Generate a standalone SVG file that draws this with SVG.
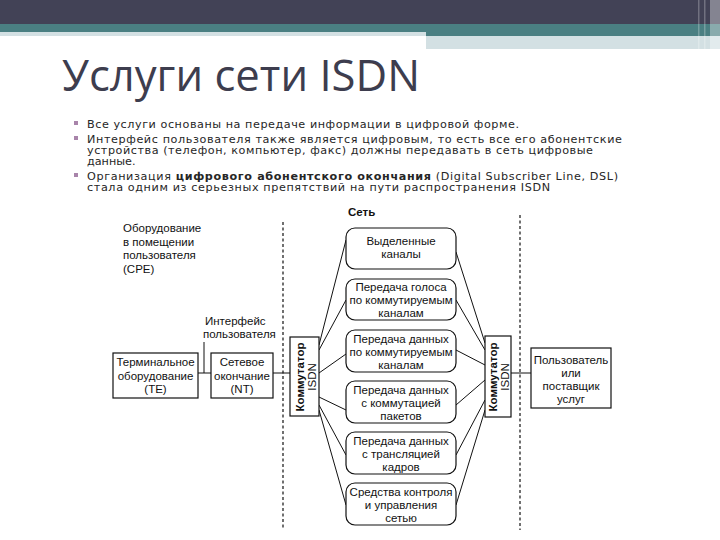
<svg xmlns="http://www.w3.org/2000/svg" width="720" height="540" viewBox="0 0 720 540">
<style>
.body{font-family:"DejaVu Sans","Liberation Sans",sans-serif;font-size:11.2px;fill:#262626}
.dg{font-family:"Liberation Sans",Arial,sans-serif;font-size:11.5px;fill:#111}
.c{text-anchor:middle}
.box{fill:#fff;stroke:#111;stroke-width:1.2}
.rb{fill:#fff;stroke:#111;stroke-width:1.2}
.ln{stroke:#111;stroke-width:1;fill:none}
.dash{stroke:#111;stroke-width:1.2;stroke-dasharray:3 2.5;fill:none}
.bul{fill:#a884aa}
</style>
<rect x="0" y="0" width="720" height="540" fill="#fff"/>
<g id="header">
<rect x="0" y="0" width="720" height="24" fill="#424256"/>
<rect x="0" y="24" width="720" height="8" fill="#4a7f82"/>
<rect x="426" y="32" width="294" height="4" fill="#4a7f82"/>
<rect x="0" y="32" width="426" height="4" fill="#d3e0e3"/>
<rect x="426" y="36" width="294" height="13" fill="#d3e0e3"/>
<rect x="698" y="0" width="1.5" height="49" fill="#fff" opacity="0.25"/>
<rect x="704" y="0" width="1.5" height="49" fill="#fff" opacity="0.25"/>
<rect x="710" y="0" width="10" height="49" fill="#fff" opacity="0.35"/>
</g>
<text x="62" y="91" font-family="'Open Sans','DejaVu Sans',sans-serif" font-size="43" fill="#3d3d4e" textLength="358" lengthAdjust="spacingAndGlyphs">Услуги сети ISDN</text>
<g id="bullets">
<rect class="bul" x="74" y="121" width="4" height="4"/>
<rect class="bul" x="74" y="136" width="4" height="4"/>
<rect class="bul" x="74" y="173" width="4" height="4"/>
<text class="body" x="87" y="128" textLength="432" lengthAdjust="spacing">Все услуги основаны на передаче информации в цифровой форме.</text>
<text class="body" x="87" y="143" textLength="535" lengthAdjust="spacing">Интерфейс пользователя также является цифровым, то есть все его абонентские</text>
<text class="body" x="87" y="154" textLength="506" lengthAdjust="spacing">устройства (телефон, компьютер, факс) должны передавать в сеть цифровые</text>
<text class="body" x="87" y="165">данные.</text>
<text class="body" x="87" y="180" textLength="531" lengthAdjust="spacing">Организация <tspan font-weight="bold">цифрового абонентского окончания</tspan> (Digital Subscriber Line, DSL)</text>
<text class="body" x="87" y="191" textLength="463" lengthAdjust="spacing">стала одним из серьезных препятствий на пути распространения ISDN</text>
</g>
<g id="cpe-label">
<text class="dg" x="123" y="232">Оборудование</text>
<text class="dg" x="123" y="246">в помещении</text>
<text class="dg" x="123" y="259">пользователя</text>
<text class="dg" x="123" y="273">(CPE)</text>
</g>
<g id="ui-label">
<text class="dg" x="205" y="325">Интерфейс</text>
<text class="dg" x="203" y="338">пользователя</text>
</g>
<text class="dg" x="348" y="216" font-weight="bold">Сеть</text>
<g id="connectors">
<line class="dash" x1="283" y1="222" x2="283" y2="530"/>
<line class="dash" x1="520" y1="215" x2="520" y2="530"/>
<line class="ln" x1="204" y1="342" x2="204" y2="373"/>
<line class="ln" x1="198" y1="373" x2="211" y2="373"/>
<line class="ln" x1="273" y1="373" x2="290" y2="373"/>
<line class="ln" x1="511" y1="373" x2="531" y2="373"/>
<line class="ln" x1="319" y1="345" x2="346" y2="240"/>
<line class="ln" x1="319" y1="350" x2="346" y2="300"/>
<line class="ln" x1="319" y1="373" x2="346" y2="354"/>
<line class="ln" x1="319" y1="397" x2="346" y2="410"/>
<line class="ln" x1="319" y1="405" x2="346" y2="455"/>
<line class="ln" x1="319" y1="410" x2="346" y2="505"/>
<line class="ln" x1="456" y1="252" x2="485" y2="343"/>
<line class="ln" x1="456" y1="300" x2="485" y2="350"/>
<line class="ln" x1="456" y1="350" x2="485" y2="365"/>
<line class="ln" x1="456" y1="405" x2="485" y2="380"/>
<line class="ln" x1="456" y1="455" x2="485" y2="400"/>
<line class="ln" x1="456" y1="505" x2="485" y2="410"/>
</g>
<g id="te">
<rect class="box" x="113" y="353" width="85" height="45"/>
<text class="dg c" x="155.5" y="366">Терминальное</text>
<text class="dg c" x="155.5" y="380">оборудование</text>
<text class="dg c" x="155.5" y="393">(TE)</text>
</g>
<g id="nt">
<rect class="box" x="211" y="353" width="62" height="45"/>
<text class="dg c" x="242" y="366">Сетевое</text>
<text class="dg c" x="242" y="380">окончание</text>
<text class="dg c" x="242" y="393">(NT)</text>
</g>
<g id="switch-left">
<rect class="box" x="290" y="337" width="29" height="79"/>
<text class="dg c" font-weight="bold" transform="translate(304,377) rotate(-90)">Коммутатор</text>
<text class="dg c" transform="translate(316,377) rotate(-90)">ISDN</text>
</g>
<g id="switch-right">
<rect class="box" x="485" y="336" width="26" height="81"/>
<text class="dg c" font-weight="bold" transform="translate(497,377) rotate(-90)">Коммутатор</text>
<text class="dg c" transform="translate(509,377) rotate(-90)">ISDN</text>
</g>
<g id="user">
<rect class="box" x="531" y="348" width="80" height="60"/>
<text class="dg c" x="571" y="364">Пользователь</text>
<text class="dg c" x="571" y="377">или</text>
<text class="dg c" x="571" y="390">поставщик</text>
<text class="dg c" x="571" y="403">услуг</text>
</g>
<g id="svc1">
<rect class="rb" x="346" y="228" width="110" height="41" rx="9"/>
<text class="dg c" x="401" y="245">Выделенные</text>
<text class="dg c" x="401" y="258">каналы</text>
</g>
<g id="svc2">
<rect class="rb" x="346" y="279" width="110" height="41" rx="9"/>
<text class="dg c" x="401" y="291">Передача голоса</text>
<text class="dg c" x="401" y="304">по коммутируемым</text>
<text class="dg c" x="401" y="317">каналам</text>
</g>
<g id="svc3">
<rect class="rb" x="346" y="330" width="110" height="42" rx="9"/>
<text class="dg c" x="401" y="343">Передача данных</text>
<text class="dg c" x="401" y="356">по коммутируемым</text>
<text class="dg c" x="401" y="369">каналам</text>
</g>
<g id="svc4">
<rect class="rb" x="346" y="381" width="110" height="42" rx="9"/>
<text class="dg c" x="401" y="394">Передача данных</text>
<text class="dg c" x="401" y="407">с коммутацией</text>
<text class="dg c" x="401" y="420">пакетов</text>
</g>
<g id="svc5">
<rect class="rb" x="346" y="432" width="110" height="42" rx="9"/>
<text class="dg c" x="401" y="445">Передача данных</text>
<text class="dg c" x="401" y="458">с трансляцией</text>
<text class="dg c" x="401" y="471">кадров</text>
</g>
<g id="svc6">
<rect class="rb" x="346" y="483" width="110" height="42" rx="9"/>
<text class="dg c" x="401" y="496">Средства контроля</text>
<text class="dg c" x="401" y="509">и управления</text>
<text class="dg c" x="401" y="522">сетью</text>
</g>
</svg>
